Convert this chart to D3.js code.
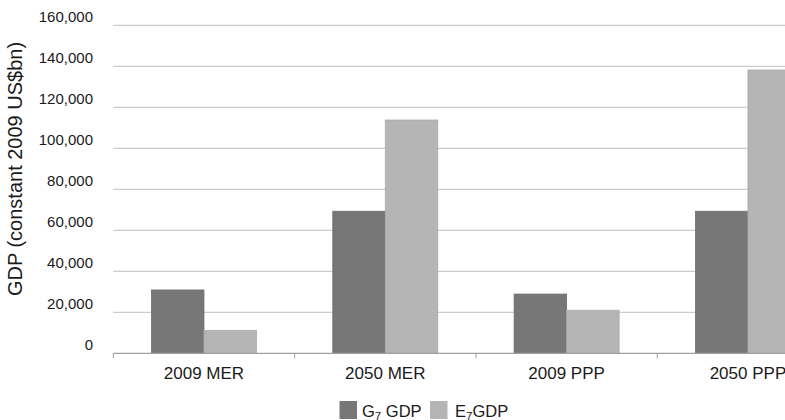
<!DOCTYPE html>
<html><head><meta charset="utf-8">
<script src="https://cdn.jsdelivr.net/npm/d3@7"></script>
<style>html,body{margin:0;padding:0;background:#fff;overflow:hidden}text{font-family:"Liberation Sans",Arial,Helvetica,sans-serif;fill:#1a1a1a}</style>
</head><body><svg id="c" width="785" height="420"></svg>
<script>
const categories = ["2009 MER", "2050 MER", "2009 PPP", "2050 PPP"];
const seriesNames = ["G7", "E7"];
const g7Values = [30900, 69300, 28900, 69300];
const e7Values = [11200, 113800, 21000, 138200];
const yTicks = [0, 20000, 40000, 60000, 80000, 100000, 120000, 140000, 160000];
const colors = {G7: "#777777", E7: "#b5b5b5"};

const svg = d3.select("#c");
const y = d3.scaleLinear().domain([0, 160000]).range([353.3, 25.3]);
const x0 = d3.scaleBand().domain(categories).range([113.3, 838.6]).padding(0);
const x1 = d3.scaleBand().domain(seriesNames).range([0, x0.bandwidth()]).paddingInner(0).paddingOuter(0.727);

// gridlines
svg.append("g").selectAll("line").data(yTicks.filter(d => d > 0)).join("line")
  .attr("x1", 113.3).attr("x2", 785)
  .attr("y1", d => y(d)).attr("y2", d => y(d))
  .attr("stroke", "#cccccc").attr("stroke-width", 1.3);

// tick labels
svg.append("g").selectAll("text").data(yTicks).join("text")
  .attr("x", 93).attr("y", d => y(d) - 3)
  .attr("text-anchor", "end").attr("font-size", 15)
  .text(d => d3.format(",")(d));

// bars
const rows = categories.map((c, i) => ({cat: c, G7: g7Values[i], E7: e7Values[i]}));
const grp = svg.append("g").selectAll("g").data(rows).join("g")
  .attr("transform", d => `translate(${x0(d.cat)},0)`);
grp.selectAll("rect").data(d => seriesNames.map(s => ({s, v: d[s]}))).join("rect")
  .attr("x", d => x1(d.s)).attr("width", x1.bandwidth())
  .attr("y", d => y(d.v)).attr("height", d => y(0) - y(d.v))
  .attr("fill", d => colors[d.s])
  .attr("stroke", d => d.s === "G7" ? "#6e6e6e" : "#aaaaaa").attr("stroke-width", 0.8);

// x axis
const xa = svg.append("g");
xa.append("line").attr("x1", 113.3).attr("x2", 785).attr("y1", y(0)).attr("y2", y(0))
  .attr("stroke", "#a0a0a0").attr("stroke-width", 1.2);
xa.selectAll("line.tk").data(categories).join("line").attr("class", "tk")
  .attr("x1", d => x0(d)).attr("x2", d => x0(d))
  .attr("y1", y(0)).attr("y2", y(0) + 5)
  .attr("stroke", "#a0a0a0").attr("stroke-width", 1);
xa.selectAll("text").data(categories).join("text")
  .attr("x", d => x0(d) + x0.bandwidth() / 2).attr("y", 378.5)
  .attr("text-anchor", "middle").attr("font-size", 17)
  .text(d => d);

// y title
svg.append("text").attr("transform", "translate(22,169) rotate(-90)")
  .attr("text-anchor", "middle").attr("font-size", 20)
  .text("GDP (constant 2009 US$bn)");

// legend
const legend = [
  {s: "G7", x: 339.5, tx: 362, main: "G", sub: "7", rest: " GDP"},
  {s: "E7", x: 430, tx: 455, main: "E", sub: "7", rest: "GDP"}
];
const lg = svg.append("g").selectAll("g").data(legend).join("g");
lg.append("rect").attr("x", d => d.x).attr("y", 401).attr("width", 17.5).attr("height", 18)
  .attr("fill", d => colors[d.s]);
const lt = lg.append("text").attr("x", d => d.tx).attr("y", 416.5).attr("font-size", 16.5);
lt.append("tspan").text(d => d.main);
lt.append("tspan").attr("font-size", 11.5).attr("dy", 3).text(d => d.sub);
lt.append("tspan").attr("dy", -3).text(d => d.rest);
</script></body></html>
